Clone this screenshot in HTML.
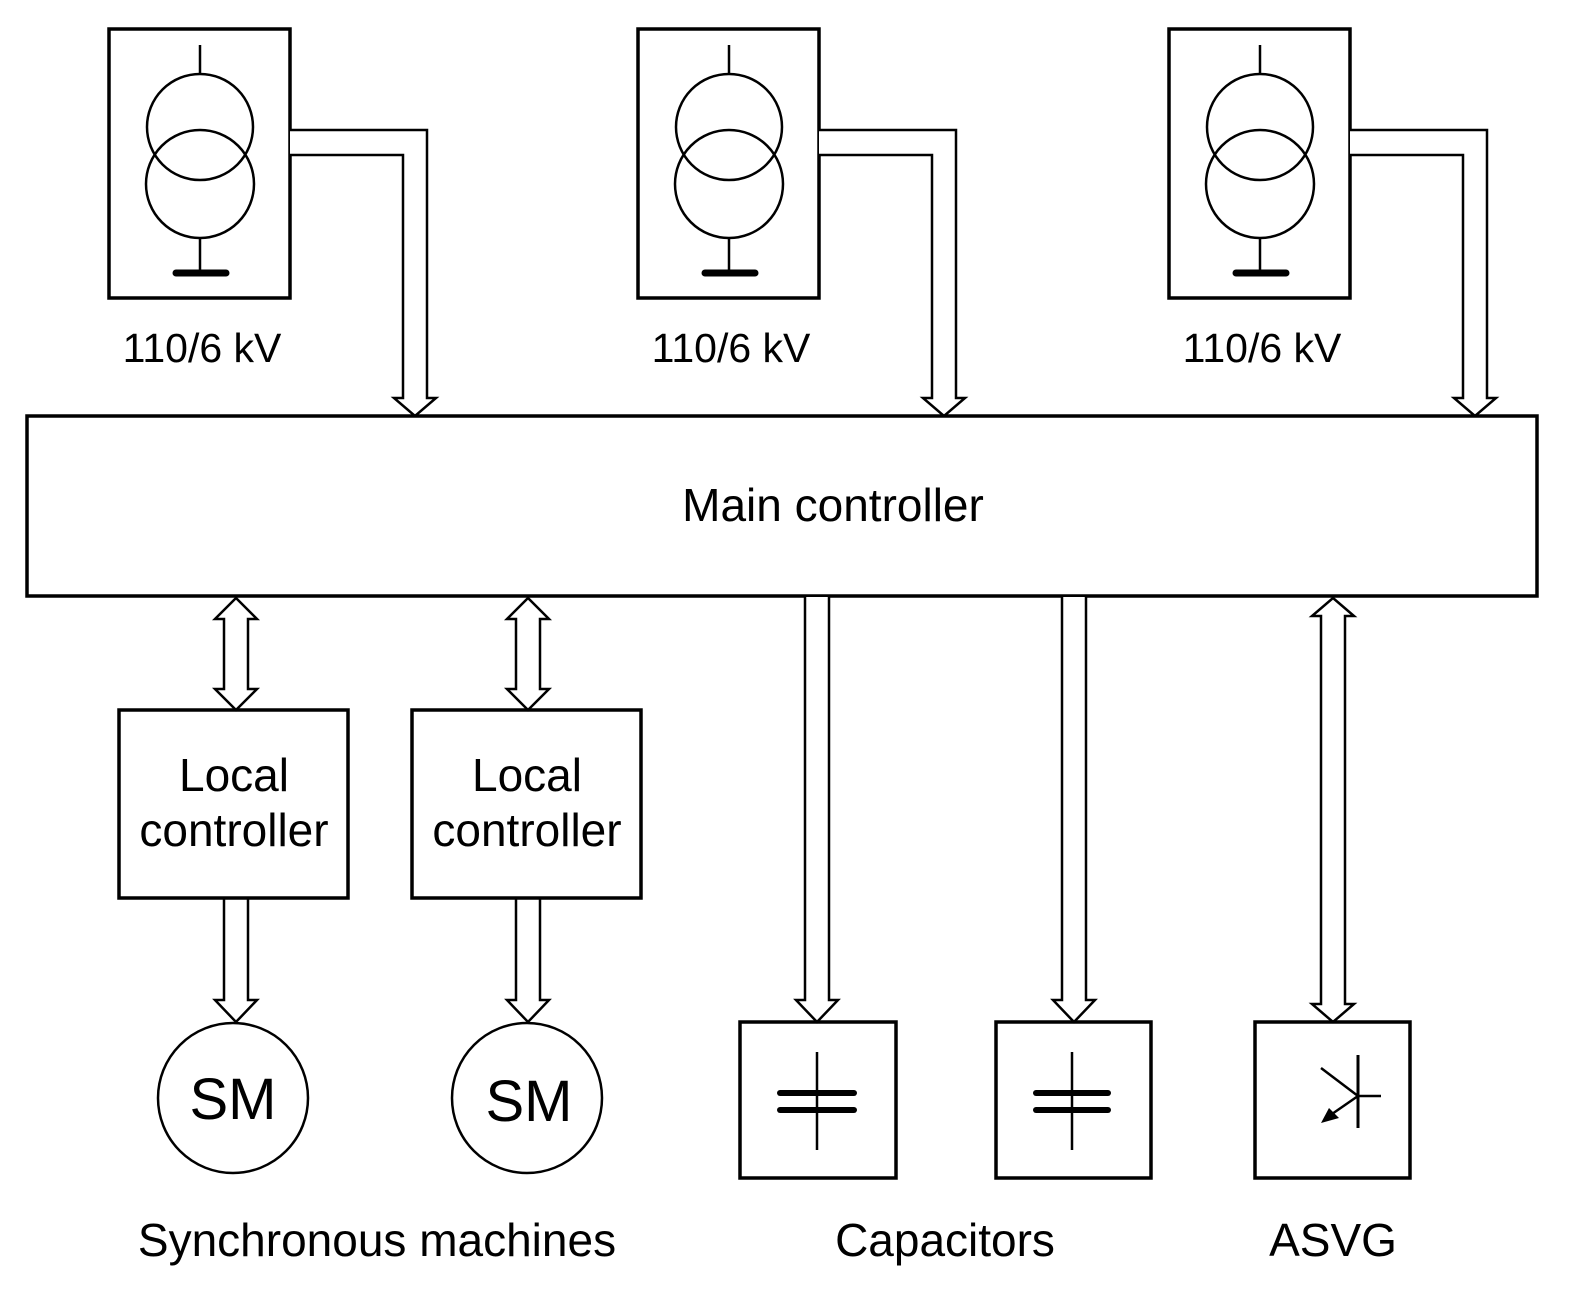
<!DOCTYPE html>
<html><head><meta charset="utf-8"><style>
html,body{margin:0;padding:0;background:#fff;}
svg{display:block;}
text{font-family:"Liberation Sans",Arial,sans-serif;fill:#000;}
</style></head><body>
<svg width="1586" height="1306" viewBox="0 0 1586 1306" xmlns="http://www.w3.org/2000/svg">
<defs>
<g id="tr">
  <rect x="109" y="29" width="181" height="269" fill="none" stroke="#000" stroke-width="3.5"/>
  <line x1="200" y1="45" x2="200" y2="74" stroke="#000" stroke-width="2.5"/>
  <circle cx="200" cy="127" r="53" fill="none" stroke="#000" stroke-width="2.5"/>
  <circle cx="200" cy="184" r="54" fill="none" stroke="#000" stroke-width="2.5"/>
  <line x1="200" y1="238" x2="200" y2="272" stroke="#000" stroke-width="2.5"/>
  <line x1="176" y1="273" x2="226" y2="273" stroke="#000" stroke-width="7" stroke-linecap="round"/>
  <path d="M290,130 H427 V398 H436 L415,416 L394,398 H403 V155 H290" fill="#fff" stroke="#000" stroke-width="2.5"/>
  <text x="202" y="362" font-size="41" text-anchor="middle">110/6 kV</text>
</g>
</defs>
<use href="#tr"/>
<use href="#tr" x="529"/>
<use href="#tr" x="1060"/>

<rect x="27" y="416" width="1510" height="180" fill="#fff" stroke="#000" stroke-width="3.5"/>
<text x="833" y="521" font-size="46" text-anchor="middle">Main controller</text>

<g fill="#fff" stroke="#000" stroke-width="2.5">
  <path d="M236,598 L257,619 H248 V689 H257 L236,710 L215,689 H224 V619 H215 Z"/>
  <path d="M528,598 L549,619 H540 V689 H549 L528,710 L507,689 H516 V619 H507 Z"/>
  <path d="M224,898 V1000 H215 L236,1022 L257,1000 H248 V898"/>
  <path d="M516,898 V1000 H507 L528,1022 L549,1000 H540 V898"/>
  <path d="M805,597 V1000 H796 L817,1022 L838,1000 H829 V597"/>
  <path d="M1062,597 V1000 H1053 L1074,1022 L1095,1000 H1086 V597"/>
  <path d="M1333,598 L1354,616 H1345 V1004 H1354 L1333,1022 L1312,1004 H1321 V616 H1312 Z"/>
</g>

<rect x="119" y="710" width="229" height="188" fill="none" stroke="#000" stroke-width="3.5"/>
<rect x="412" y="710" width="229" height="188" fill="none" stroke="#000" stroke-width="3.5"/>
<text x="234" y="791" font-size="46" text-anchor="middle">Local</text>
<text x="234" y="846" font-size="46" text-anchor="middle">controller</text>
<text x="527" y="791" font-size="46" text-anchor="middle">Local</text>
<text x="527" y="846" font-size="46" text-anchor="middle">controller</text>

<circle cx="233" cy="1098" r="75" fill="none" stroke="#000" stroke-width="2.5"/>
<circle cx="527" cy="1098" r="75" fill="none" stroke="#000" stroke-width="2.5"/>
<text x="233" y="1119" font-size="58" text-anchor="middle">SM</text>
<text x="529" y="1121" font-size="58" text-anchor="middle">SM</text>

<rect x="740" y="1022" width="156" height="156" fill="none" stroke="#000" stroke-width="3.5"/>
<rect x="996" y="1022" width="155" height="156" fill="none" stroke="#000" stroke-width="3.5"/>
<rect x="1255" y="1022" width="155" height="156" fill="none" stroke="#000" stroke-width="3.5"/>
<g stroke="#000">
  <line x1="817" y1="1052" x2="817" y2="1150" stroke-width="2.5"/>
  <line x1="780" y1="1093" x2="854" y2="1093" stroke-width="6" stroke-linecap="round"/>
  <line x1="780" y1="1110" x2="854" y2="1110" stroke-width="6" stroke-linecap="round"/>
  <line x1="1072" y1="1052" x2="1072" y2="1150" stroke-width="2.5"/>
  <line x1="1036" y1="1093" x2="1108" y2="1093" stroke-width="6" stroke-linecap="round"/>
  <line x1="1036" y1="1110" x2="1108" y2="1110" stroke-width="6" stroke-linecap="round"/>
  <line x1="1358" y1="1055" x2="1358" y2="1128" stroke-width="3"/>
  <line x1="1358" y1="1096" x2="1381" y2="1096" stroke-width="2.5"/>
  <line x1="1321" y1="1068" x2="1358" y2="1096" stroke-width="2.5"/>
  <line x1="1358" y1="1096" x2="1332" y2="1114" stroke-width="2.5"/>
</g>
<polygon points="1321,1123 1329,1108 1339,1118" fill="#000"/>

<text x="377" y="1256" font-size="46" text-anchor="middle">Synchronous machines</text>
<text x="945" y="1256" font-size="46" text-anchor="middle">Capacitors</text>
<text x="1333" y="1256" font-size="46" text-anchor="middle">ASVG</text>
</svg>
</body></html>
